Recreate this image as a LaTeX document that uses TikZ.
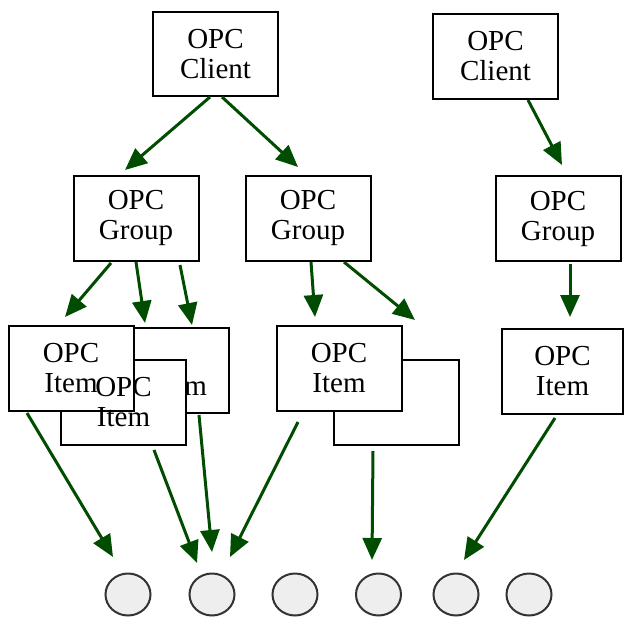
\documentclass[tikz,border=0pt]{standalone}
\usepackage{fontspec}
\setmainfont{Liberation Serif}
\usetikzlibrary{arrows.meta,shapes.geometric}
\definecolor{arrgreen}{RGB}{0,76,0}
\definecolor{ballgray}{RGB}{238,238,238}
\tikzset{
  opcbox/.style={draw=black,line width=2pt,fill=white,minimum width=125pt,minimum height=85pt,inner sep=0pt,align=center,font=\fontsize{29}{30}\selectfont},
  opclabel/.style={inner sep=0pt,align=center,font=\fontsize{29}{30}\selectfont},
  ball/.style={ellipse,draw=black!80,line width=2pt,fill=ballgray,minimum width=45pt,minimum height=42pt,inner sep=0pt},
  arr/.style={draw=arrgreen,line width=3pt,-{Triangle[length=22pt,width=19pt,fill=arrgreen]}}
}
\begin{document}
\begin{tikzpicture}[x=1pt,y=-1pt]
\useasboundingbox (0,0) rectangle (624,618);
% clients
\node[opcbox,minimum height=84pt] (c1) at (215.5,54) {OPC\\Client};
\node[opcbox] (c2) at (495.5,56.5) {OPC\\Client};
% groups
\node[opcbox] (g1) at (136,218) {OPC\\Group};
\node[opcbox] (g2) at (308,218) {OPC\\Group};
\node[opcbox] (g3) at (558,218.5) {OPC\\Group};
% items
\node[opcbox] (iB) at (166,370.5) {};
\node[opclabel,anchor=base east] (iBt) at (207,395) {Item};
\node[opcbox] (iC) at (123.5,402) {};
\node[opcbox] (iA) at (71,368) {OPC\\Item};
\node[opclabel] (iCt) at (iC.center) {OPC\\Item};
\node[opcbox] (iE) at (396.5,402) {};
\node[opcbox] (iD) at (339,368) {OPC\\Item};
\node[opcbox,minimum width=121pt] (iF) at (562.5,371) {OPC\\Item};
% balls
\node[ball] (b1) at (128,594.5) {};
\node[ball] (b2) at (212,594.5) {};
\node[ball] (b3) at (295,594.5) {};
\node[ball] (b4) at (378.5,594.5) {};
\node[ball] (b5) at (456,594.5) {};
\node[ball] (b6) at (529,594.5) {};
% arrow end points
\coordinate (s1) at (210,97);  \coordinate (t1) at (125,170);
\coordinate (s2) at (222,97);  \coordinate (t2) at (298,167);
\coordinate (s3) at (528,100); \coordinate (t3) at (562,165);
\coordinate (s4) at (111,263); \coordinate (t4) at (65,317);
\coordinate (s5) at (136,262); \coordinate (t5) at (145,323);
\coordinate (s6) at (180,265); \coordinate (t6) at (192,325);
\coordinate (s7) at (311,262); \coordinate (t7) at (315,317);
\coordinate (s8) at (344,262); \coordinate (t8) at (415,320);
\coordinate (s9) at (570,264); \coordinate (t9) at (570,317);
\coordinate (s10) at (27,413); \coordinate (t10) at (113,557);
\coordinate (s11) at (154,450); \coordinate (t11) at (197,563);
\coordinate (s12) at (199,415); \coordinate (t12) at (212,552);
\coordinate (s13) at (298,422); \coordinate (t13) at (230,557);
\coordinate (s14) at (373,451); \coordinate (t14) at (372,560);
\coordinate (s15) at (555,418); \coordinate (t15) at (464,560);
\foreach \i in {1,...,15} { \draw[arr] (s\i) -- (t\i); }
\end{tikzpicture}
\end{document}
